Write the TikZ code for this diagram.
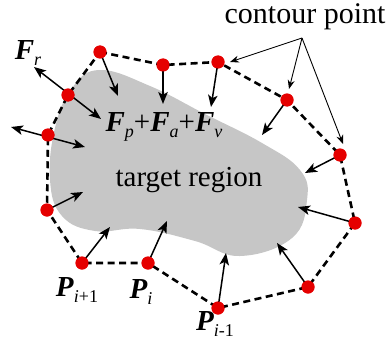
\documentclass[tikz,border=0pt]{standalone}
\usepackage{fontspec}
\setmainfont{Liberation Serif}
\usetikzlibrary{arrows.meta}
\newcommand{\mysub}[1]{\raisebox{-0.2em}{\fontsize{18}{18}\selectfont #1}}
\newcommand{\bi}[1]{\textbf{\textit{#1}}}
\begin{document}
\begin{tikzpicture}[x=1pt,y=-1pt,
  cpt/.style={circle,fill=red!90!black,inner sep=0pt,minimum size=13pt},
  contour/.style={line width=2.6pt,dash pattern=on 7pt off 4.5pt},
  force/.style={line width=1.5pt,-{Stealth[length=12pt,width=9.5pt,inset=3pt]}},
  dforce/.style={line width=1.5pt,{Stealth[length=12pt,width=9.5pt,inset=3pt]}-{Stealth[length=12pt,width=9.5pt,inset=3pt]}},
  pointer/.style={line width=0.9pt,-{Stealth[length=9pt,width=7pt]}},
  lbl/.style={font=\fontsize{29}{32}\selectfont,inner sep=0pt}]
\useasboundingbox (0,0) rectangle (387,342);
% target region
\fill[gray!45] plot[smooth cycle,tension=0.7] coordinates{
 (100,70) (150,86) (205,114) (262,143) (300,170) (307,200) (292,238)
 (240,256) (195,241) (140,229) (95,231) (62,216) (50,180) (55,128) (72,88)};
% contour points
\node[cpt] (p1) at (100,52) {};
\node[cpt] (p2) at (163,65) {};
\node[cpt] (p3) at (218,62) {};
\node[cpt] (p4) at (287,100) {};
\node[cpt] (p5) at (340,155) {};
\node[cpt] (p6) at (355,223) {};
\node[cpt] (p7) at (308,287) {};
\node[cpt] (p8) at (218,308) {};
\node[cpt] (p9) at (148,263) {};
\node[cpt] (p10) at (82,263) {};
\node[cpt] (p11) at (47,210) {};
\node[cpt] (p12) at (48,135) {};
\node[cpt] (p13) at (68,95) {};
\draw[contour] (p1.center) -- (p2.center) -- (p3.center) -- (p4.center) -- (p5.center)
  -- (p6.center) -- (p7.center) -- (p8.center) -- (p9.center) -- (p10.center)
  -- (p11.center) -- (p12.center) -- (p13.center) -- cycle;
% force endpoints
\coordinate (a1) at (118,96);
\coordinate (a2) at (163,104);
\coordinate (a3) at (211,107);
\coordinate (a4) at (262,135);
\coordinate (a5) at (305,173);
\coordinate (a6) at (298,207);
\coordinate (a7) at (277,243);
\coordinate (a8) at (226,253);
\coordinate (a9) at (167,221);
\coordinate (a10) at (110,227);
\coordinate (a11) at (83,192);
\coordinate (r13a) at (34,67);
\coordinate (r13b) at (101,119);
\coordinate (r12a) at (11,127);
\coordinate (r12b) at (85,147);
\draw[force] (p1.center) -- (a1);
\draw[force] (p2.center) -- (a2);
\draw[force] (p3.center) -- (a3);
\draw[force] (p4.center) -- (a4);
\draw[force] (p5.center) -- (a5);
\draw[force] (p6.center) -- (a6);
\draw[force] (p7.center) -- (a7);
\draw[force] (p8.center) -- (a8);
\draw[force] (p9.center) -- (a9);
\draw[force] (p10.center) -- (a10);
\draw[force] (p11.center) -- (a11);
\draw[dforce] (r13a) -- (r13b);
\draw[dforce] (r12a) -- (r12b);
% redraw dots on top
\foreach \p in {p1,p2,p3,p4,p5,p6,p7,p8,p9,p10,p11,p12,p13}
  \fill[red!90!black] (\p) circle (6.5pt);
% labels
\node[lbl,font=\fontsize{30}{33}\selectfont] (cp) at (305,17) {contour point};
\coordinate (cps) at (302,38);
\draw[pointer] (cps) -- (230,62);
\draw[pointer] (cps) -- (289,89);
\draw[pointer] (cps) -- (343,144);
\node[lbl] (fr) at (28,53) {\bi{F}\mysub{\textit{r}}};
\node[lbl] (fsum) at (164,127) {\bi{F}\mysub{\textit{p}}+\bi{F}\mysub{\textit{a}}+\bi{F}\mysub{\textit{v}}};
\node[lbl] (tr) at (189,180) {target region};
\node[lbl] (l10) at (77,290) {\bi{P}\mysub{\textit{i}+1}};
\node[lbl] (l9) at (141,292) {\bi{P}\mysub{\textit{i}}};
\node[lbl] (l8) at (215,324) {\bi{P}\mysub{\textit{i}-1}};
\end{tikzpicture}
\end{document}
